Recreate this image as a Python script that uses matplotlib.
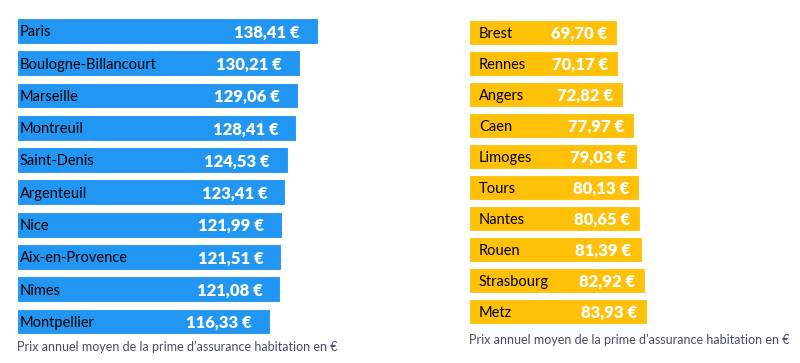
import matplotlib
matplotlib.use("Agg")
import matplotlib.pyplot as plt

# Most expensive cities (left panel)
cities_high = ["Paris", "Boulogne-Billancourt", "Marseille", "Montreuil", "Saint-Denis",
               "Argenteuil", "Nice", "Aix-en-Provence", "Nîmes", "Montpellier"]
prices_high = [138.41, 130.21, 129.06, 128.41, 124.53, 123.41, 121.99, 121.51, 121.08, 116.33]

# Cheapest cities (right panel)
cities_low = ["Brest", "Rennes", "Angers", "Caen", "Limoges",
              "Tours", "Nantes", "Rouen", "Strasbourg", "Metz"]
prices_low = [69.70, 70.17, 72.82, 77.97, 79.03, 80.13, 80.65, 81.39, 82.92, 83.93]

caption = "Prix annuel moyen de la prime d\u2019assurance habitation en €"

BLUE = "#2196F3"
YELLOW = "#FFC107"
CAPTION_COLOR = "#474C68"
W, H = 800, 363

plt.rcParams["font.family"] = ["Lato", "DejaVu Sans"]

fig = plt.figure(figsize=(W / 100, H / 100), dpi=100)


def px_axes(left, top, width, height):
    return fig.add_axes([left / W, 1 - (top + height) / H, width / W, height / H])


def draw_panel(ax, names, values, color, px_per_unit, width_px, name_pad, value_pad):
    ax.set_xlim(0, width_px / px_per_unit)
    ax.set_ylim(len(names) - 0.5, -0.5)
    ax.barh(range(len(names)), values, height=0.8, color=color,
            edgecolor="#FFFFFF", linewidth=0.8)
    for i, (n, v) in enumerate(zip(names, values)):
        ax.annotate(n, (0, i), xytext=(name_pad * 0.72, -1), textcoords="offset points",
                    ha="left", va="center", fontsize=10.5, color="black")
        ax.annotate(f"{v:.2f}".replace(".", ",") + " €", (v, i),
                    xytext=(-value_pad * 0.72, -1), textcoords="offset points",
                    ha="right", va="center", fontsize=12, fontweight="heavy", color="white")
    ax.axis("off")


ax1 = px_axes(17, 14.85, 320, 322.8)
draw_panel(ax1, cities_high, prices_high, BLUE, 2.175, 320, 3, 18)

ax2 = px_axes(469, 17, 250, 310)
draw_panel(ax2, cities_low, prices_low, YELLOW, 2.12, 250, 10, 10)

fig.text(17 / W, 1 - 347 / H, caption, fontsize=9, color=CAPTION_COLOR,
         ha="left", va="center")
fig.text(469 / W, 1 - 340 / H, caption, fontsize=9, color=CAPTION_COLOR,
         ha="left", va="center")

fig.savefig("out.png", dpi=100, facecolor="white")
